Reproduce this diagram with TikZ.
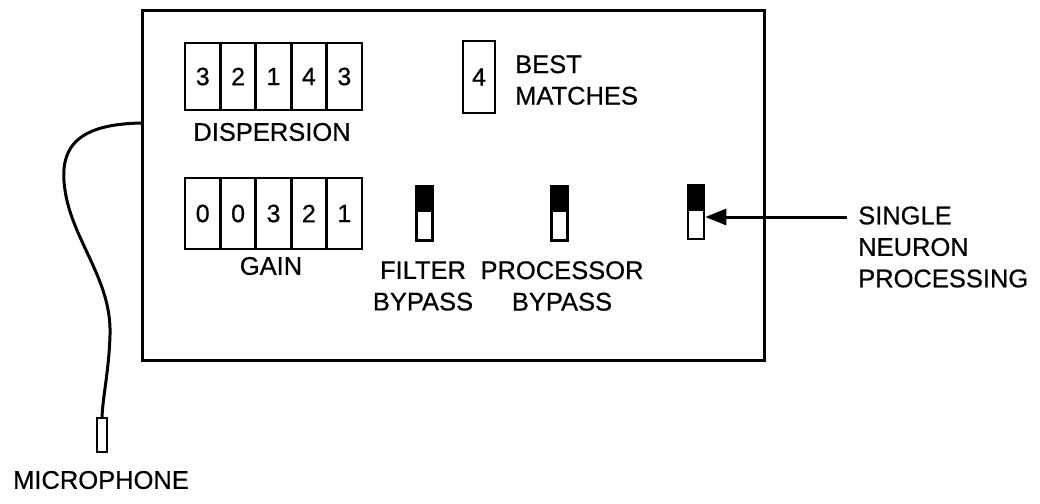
\documentclass[tikz,border=0pt]{standalone}
\usepackage{fontspec}
\setmainfont{Liberation Sans}[FakeBold=0.6]
\usetikzlibrary{arrows.meta}
\begin{document}
\begin{tikzpicture}[x=1pt,y=-1pt,
  ln/.style={line width=3pt},
  lbl/.style={font=\fontsize{25.5}{31.5}\selectfont, inner sep=0pt, align=center},
  cell/.style={draw, line width=2.8pt, minimum width=35.4pt, minimum height=67pt, inner sep=0pt, font=\fontsize{25}{28}\selectfont},
  sw/.style={draw, line width=2.6pt, minimum width=16pt, minimum height=54pt, inner sep=0pt}
]
\useasboundingbox (0,0) rectangle (1040,503);
% main panel
\draw[ln] (142,11) rectangle (764,360);
\coordinate (pl) at (142,123);
% dispersion
\foreach \d [count=\i] in {3,2,1,4,3}{
  \node[cell] (d\i) at ({185+35.4*(\i-0.5)},76.5) {\d};
}
\node[lbl] (dl) at (272,132) {DISPERSION};
% gain
\foreach \d [count=\i] in {0,0,3,2,1}{
  \node[cell, minimum height=71pt] (g\i) at ({185+35.4*(\i-0.5)},213.5) {\d};
}
\node[lbl] (gl) at (271,266) {GAIN};
% best matches
\node[cell, minimum width=32pt, minimum height=72pt] (bm) at (479,77) {4};
\node[lbl, anchor=west, align=left] (bml) at (515,80) {BEST\\MATCHES};
% switches
\foreach \n/\x/\y in {f/424.5/213.5, p/559.5/213.5, s/696/212}{
  \node[sw] (\n) at (\x,\y) {};
  \fill (\n.north west) rectangle ([yshift=-27pt]\n.north east);
}
\node[lbl] (fl) at (423,286) {FILTER\\BYPASS};
\node[lbl] (pll) at (562,286) {PROCESSOR\\BYPASS};
\node[lbl, anchor=west, align=left] (sl) at (858,247) {SINGLE\\NEURON\\PROCESSING};
\coordinate (ae) at (847,217);
\draw[ln, -{Triangle[length=21pt,width=16pt]}] (ae) -- (s.east |- ae);
% microphone
\node[draw, line width=2.2pt, minimum width=10pt, minimum height=34pt, inner sep=0pt] (mic) at (102,435) {};
\draw[ln] (pl) .. controls (80,124) and (58,145) .. (65,190)
  .. controls (72,240) and (112,280) .. (110,335)
  .. controls (109,370) and (103,395) .. (mic.north);
\node[lbl] (ml) at (101,480) {MICROPHONE};
\end{tikzpicture}
\end{document}
